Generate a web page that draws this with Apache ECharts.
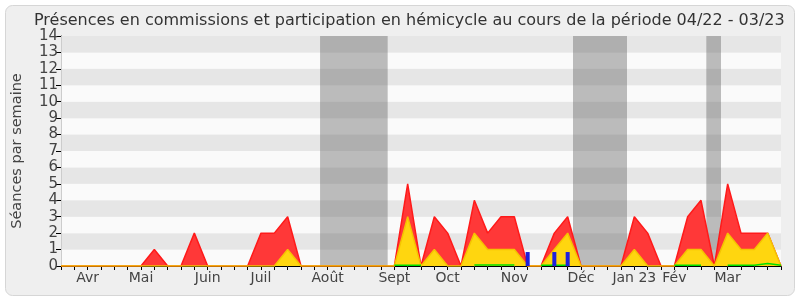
<!DOCTYPE html>
<html><head><meta charset="utf-8">
<script src="https://cdn.jsdelivr.net/npm/echarts@6/dist/echarts.min.js"></script>
<style>html,body{margin:0;padding:0;background:#fff}#c{width:800px;height:300px}</style>
</head><body><div id="c"></div>
<script>
// ---- data ----
const weekCount = 55; // weeks 0..54
const monthNames = ['Avr','Mai','Juin','Juil','Août','Sept','Oct','Nov','Déc','Jan 23','Fév','Mar'];
const monthWeeks = [2, 6, 11, 15, 20, 25, 29, 34, 39, 43, 46, 50];
const yMin = 0, yMax = 14, yStep = 1;
// red: présences en commissions (séances par semaine)
const commissions = [0,0,0,0,0,0,0,1,0,0, 2,0,0,0,0,2,2,3,0,0, 0,0,0,0,0,0,5,0,3,2, 0,4,2,3,3,0,0,2,3,0, 0,0,0,3,2,0,0,3,4,0, 5,2,2,2,0];
// yellow: participation en hémicycle
const hemicycle   = [0,0,0,0,0,0,0,0,0,0, 0,0,0,0,0,0,0,1,0,0, 0,0,0,0,0,0,3,0,1,0, 0,2,1,1,1,0,0,1,2,0, 0,0,0,1,0,0,0,1,1,0, 2,1,1,2,0];
// green line (very small values)
const greenVals   = [null,null,null,null,null,null,null,null,null,null, null,null,null,null,null,null,null,null,null,null, null,null,null,null,null,0.05,0.05,0.05,null,null, null,0.06,0.06,0.06,0.06,null,0.05,0.05,0.05,null, null,null,null,null,null,null,0.05,0.05,0.05,null, 0.05,0.05,0.05,0.15,0.05];
// blue bars
const blueWeeks  = [35, 37, 38];
const blueValues = [0.85, 0.85, 0.85];
// vacation periods (in weeks)
const vacations = [[19.43, 24.5], [38.4, 42.45], [48.4, 49.5]];

const labelFor = {};
monthWeeks.forEach((w, i) => labelFor[w] = monthNames[i]);
const toPairs = arr => arr.map((v, i) => [i, v]);

const chart = echarts.init(document.getElementById('c'), null, {renderer: 'canvas'});
const FONT = 'DejaVu Sans';
chart.setOption({
  animation: false,
  backgroundColor: '#ffffff',
  graphic: [{
    type: 'rect', z: -100, silent: true,
    shape: {x: 5.5, y: 5.5, width: 789, height: 290, r: 7},
    style: {fill: '#efefef', stroke: '#d6d6d6', lineWidth: 1}
  }],
  title: {
    text: 'Présences en commissions et participation en hémicycle au cours de la période 04/22 - 03/23',
    left: 29, top: 8,
    textStyle: {fontFamily: FONT, fontSize: 16, fontWeight: 'normal', color: '#333'}
  },
  grid: {left: 61, right: 19, top: 36, bottom: 34, containLabel: false},
  xAxis: [{
    type: 'value', min: 0, max: weekCount - 1, interval: 1,
    axisLine: {show: true, onZero: false, lineStyle: {color: '#000', width: 1}},
    axisTick: {show: true, length: 4, lineStyle: {color: '#000'}},
    axisLabel: {show: true, fontFamily: FONT, fontSize: 14, color: '#444', margin: 5,
      formatter: v => labelFor[v] || ''},
    splitLine: {show: false}
  }, {
    type: 'value', min: 0, max: weekCount - 1, interval: 1, position: 'top',
    axisLine: {show: false},
    axisTick: {show: true, inside: true, length: 1, lineStyle: {color: '#333'}},
    axisLabel: {show: false}, splitLine: {show: false}
  }],
  yAxis: [{
    type: 'value', min: yMin, max: yMax, interval: yStep,
    name: 'Séances par semaine', nameLocation: 'middle', nameGap: 36,
    nameTextStyle: {fontFamily: FONT, fontSize: 14.5, color: '#444'},
    axisLine: {show: true, lineStyle: {color: '#000'}},
    axisTick: {show: true, length: 5, lineStyle: {color: '#000'}},
    axisLabel: {fontFamily: FONT, fontSize: 15, color: '#444', margin: 3},
    splitLine: {show: false},
    splitArea: {show: true, areaStyle: {color: ['#fafafa', '#e6e6e6']}}
  }, {
    type: 'value', min: yMin, max: yMax, interval: yStep, position: 'right',
    axisLine: {show: true, lineStyle: {color: '#cccccc'}},
    axisTick: {show: false}, axisLabel: {show: false}, splitLine: {show: false}
  }],
  series: [{
    name: 'vacances', type: 'line', data: [], z: 1, silent: true,
    markArea: {
      silent: true,
      itemStyle: {color: 'rgba(92,92,92,0.4)'},
      data: vacations.map(v => [{xAxis: v[0]}, {xAxis: v[1]}])
    }
  }, {
    name: 'commissions', type: 'line', z: 3, symbol: 'none',
    data: toPairs(commissions),
    lineStyle: {color: '#ff1a1a', width: 1.5},
    areaStyle: {color: '#ff3838', opacity: 1}
  }, {
    name: 'hemicycle', type: 'line', z: 4, symbol: 'none',
    data: toPairs(hemicycle),
    lineStyle: {color: '#f5c400', width: 1.5},
    areaStyle: {color: '#ffd60f', opacity: 1}
  }, {
    name: 'autre', type: 'line', z: 5, symbol: 'none',
    data: toPairs(greenVals),
    lineStyle: {color: '#00e000', width: 1.5}
  }, {
    name: 'questions', type: 'bar', z: 6, barWidth: 4,
    data: blueWeeks.map((w, i) => [w, blueValues[i]]),
    itemStyle: {color: '#1f1fdd'}
  }]
});
</script>
</body></html>
